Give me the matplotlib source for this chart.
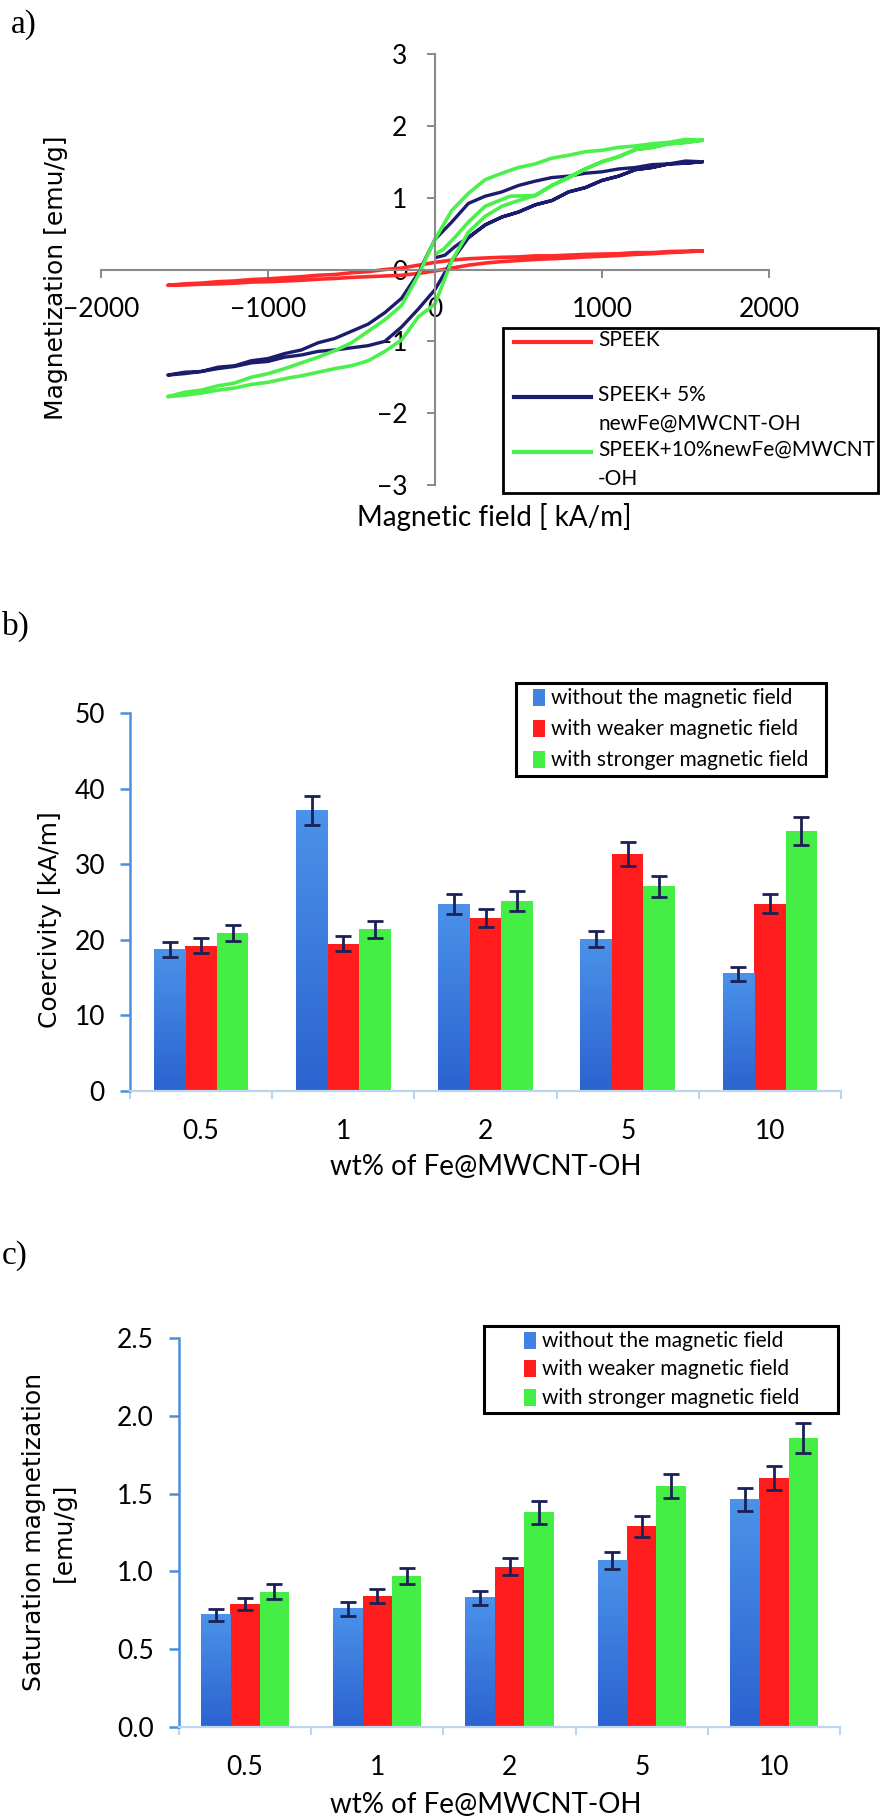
import matplotlib
matplotlib.use("Agg")
import matplotlib.pyplot as plt
import matplotlib.patches as mpatches
import matplotlib.lines as mlines
from matplotlib.colors import LinearSegmentedColormap
import numpy as np

W, H = 881, 1820

# ---------- panel a: hysteresis loops, field in kA/m, M in emu/g
field_down = [1600, 1500, 1400, 1300, 1200, 1100, 1000, 900, 800, 700, 600, 500, 400, 300,
              200, 100, 0, -100, -200, -300, -400, -500, -600, -700, -800, -900, -1000,
              -1100, -1200, -1300, -1400, -1500, -1600]
field_up = field_down[::-1]

speek_down = [0.26, 0.255, 0.25, 0.235, 0.235, 0.22, 0.215, 0.21, 0.20, 0.19, 0.19, 0.175,
              0.17, 0.16, 0.15, 0.13, 0.10, 0.06, 0.02, 0.00, -0.03, -0.045, -0.07, -0.08,
              -0.10, -0.115, -0.13, -0.14, -0.16, -0.17, -0.19, -0.20, -0.22]
speek_up = [-0.22, -0.215, -0.205, -0.20, -0.19, -0.175, -0.17, -0.16, -0.15, -0.135, -0.125,
            -0.11, -0.10, -0.09, -0.08, -0.055, -0.02, 0.02, 0.06, 0.09, 0.11, 0.125, 0.14,
            0.15, 0.16, 0.175, 0.185, 0.195, 0.21, 0.22, 0.235, 0.245, 0.26]

fe5_start_h = [10, 60, 120, 200]
fe5_start_m = [0.17, 0.20, 0.32, 0.45]
fe5_down = [1.50, 1.51, 1.47, 1.46, 1.42, 1.40, 1.36, 1.34, 1.30, 1.28, 1.23, 1.17, 1.08,
            1.02, 0.92, 0.66, 0.42, -0.05, -0.40, -0.60, -0.76, -0.86, -0.96, -1.02, -1.12,
            -1.17, -1.24, -1.27, -1.34, -1.36, -1.42, -1.43, -1.47]
fe5_up = [-1.47, -1.45, -1.42, -1.38, -1.35, -1.30, -1.28, -1.22, -1.19, -1.14, -1.12, -1.09,
          -1.06, -1.00, -0.80, -0.55, -0.28, 0.12, 0.44, 0.62, 0.73, 0.80, 0.90, 0.96, 1.08,
          1.14, 1.24, 1.30, 1.39, 1.42, 1.47, 1.48, 1.50]

fe10_start_h = [5, 50, 120, 200, 300, 450]
fe10_start_m = [0.22, 0.28, 0.45, 0.66, 0.88, 1.02]
fe10_down = [1.80, 1.81, 1.77, 1.75, 1.72, 1.70, 1.66, 1.64, 1.59, 1.55, 1.47, 1.42, 1.34,
             1.25, 1.06, 0.82, 0.42, -0.08, -0.50, -0.70, -0.86, -1.02, -1.13, -1.22, -1.30,
             -1.38, -1.45, -1.50, -1.58, -1.62, -1.68, -1.71, -1.77]
fe10_up = [-1.77, -1.75, -1.72, -1.68, -1.65, -1.60, -1.57, -1.52, -1.48, -1.43, -1.38, -1.34,
           -1.27, -1.14, -0.98, -0.66, -0.48, 0.12, 0.52, 0.74, 0.88, 0.96, 1.03, 1.17, 1.28,
           1.40, 1.50, 1.57, 1.67, 1.70, 1.75, 1.77, 1.80]

loop_names = ["SPEEK", "SPEEK+ 5%\nnewFe@MWCNT-OH", "SPEEK+10%newFe@MWCNT\n-OH"]
loop_colors = ["#ff2b2b", "#1c1c6e", "#4cf04c"]

# ---------- panels b and c
wt_labels = ["0.5", "1", "2", "5", "10"]
field_names = ["without the magnetic field", "with weaker magnetic field",
               "with stronger magnetic field"]
bar_colors = ["#3f82e2", "#ff1c1c", "#44ee44"]

coer_none = [18.7, 37.1, 24.7, 20.1, 15.5]
coer_none_err = [1.0, 1.9, 1.3, 1.1, 0.9]
coer_weak = [19.2, 19.5, 22.9, 31.4, 24.8]
coer_weak_err = [1.0, 1.0, 1.2, 1.6, 1.2]
coer_strong = [20.9, 21.4, 25.1, 27.1, 34.4]
coer_strong_err = [1.1, 1.1, 1.3, 1.4, 1.8]

sat_none = [0.72, 0.76, 0.83, 1.07, 1.46]
sat_none_err = [0.037, 0.045, 0.045, 0.056, 0.073]
sat_weak = [0.79, 0.84, 1.03, 1.29, 1.60]
sat_weak_err = [0.041, 0.045, 0.054, 0.066, 0.079]
sat_strong = [0.87, 0.97, 1.38, 1.55, 1.86]
sat_strong_err = [0.049, 0.054, 0.075, 0.079, 0.096]

narrow = ["Lato", "DejaVu Sans"]
wide = "DejaVu Sans"
serif = "Liberation Serif"

blue_shade = LinearSegmentedColormap.from_list("blue_shade", ["#2b63cf", "#4b92ea"])


def fx(x):
    return x / W


def fy(y):
    return 1 - y / H


fig = plt.figure(figsize=(W / 100, H / 100), dpi=100)


def add_ax(l, t, r, b):
    return fig.add_axes([fx(l), fy(b), (r - l) / W, (b - t) / H])


# ================= a)
ax1 = add_ax(101, 54, 769, 485)
for s in ["top", "right"]:
    ax1.spines[s].set_visible(False)
ax1.spines["left"].set_position("zero")
ax1.spines["bottom"].set_position("zero")
for s in ["left", "bottom"]:
    ax1.spines[s].set_color("#8a8a8a")
    ax1.spines[s].set_linewidth(1.5)

ax1.plot(field_down + field_up, speek_down + speek_up, color=loop_colors[0], lw=2.6,
         solid_joinstyle="round")
h5 = fe5_start_h + [h for h in field_up if h >= 300] + field_down + field_up
m5 = fe5_start_m + [m for h, m in zip(field_up, fe5_up) if h >= 300] + fe5_down + fe5_up
ax1.plot(h5, m5, color=loop_colors[1], lw=2.4, solid_joinstyle="round")
h10 = fe10_start_h + [h for h in field_up if h >= 600] + field_down + field_up
m10 = fe10_start_m + [m for h, m in zip(field_up, fe10_up) if h >= 600] + fe10_down + fe10_up
ax1.plot(h10, m10, color=loop_colors[2], lw=2.6, solid_joinstyle="round")

ax1.set_xlim(-2000, 2000)
ax1.set_ylim(-3, 3)
ax1.set_xticks([-2000, -1000, 0, 1000, 2000])
ax1.set_yticks([-3, -2, -1, 0, 1, 2, 3])
ax1.tick_params(direction="out", length=6, width=1.4, color="#8a8a8a", labelsize=19)
ax1.tick_params(axis="x", pad=14)
ax1.tick_params(axis="y", pad=14)
for lab in ax1.get_xticklabels() + ax1.get_yticklabels():
    lab.set_family(narrow)
ax1.patch.set_visible(False)

fig.text(fx(56), fy(278), "Magnetization [emu/g]", rotation=90, ha="center",
         va="center", family=wide, fontsize=18)
fig.text(fx(494), fy(517), "Magnetic field [ kA/m]", ha="center", va="center",
         family=narrow, fontsize=20)

# legend a
fig.add_artist(mpatches.Rectangle((fx(503), fy(493)), (878 - 503) / W, (493 - 328) / H,
                                  transform=fig.transFigure, fill=False, ec="black", lw=2))
for name, col, yy in zip(loop_names, loop_colors, [342, 397, 452]):
    fig.add_artist(mlines.Line2D([fx(514), fx(591)], [fy(yy), fy(yy)],
                                 transform=fig.transFigure, color=col, lw=3))
    fig.text(fx(598), fy(yy - 12), name, ha="left", va="top", family=narrow, fontsize=15,
             linespacing=1.55)


def bar_panel(box, ylim, yticks, yfmt, series, errs, legend_box, legend_rows, patch_x, text_x):
    ax = add_ax(*box)
    x = np.arange(len(wt_labels))
    w = 0.222
    for i, (vals, er, col) in enumerate(zip(series, errs, bar_colors)):
        bars = ax.bar(x + (i - 1) * w, vals, w, color=col, yerr=er,
                      error_kw=dict(ecolor="#1b2154", elinewidth=2.0, capsize=6,
                                    capthick=2.0, zorder=4),
                      zorder=2)
        if i == 0:
            # vertical shading of the first series, as in the original
            for b in bars:
                ax.imshow(np.linspace(0, 1, 64).reshape(-1, 1), cmap=blue_shade,
                          origin="lower", aspect="auto", zorder=2.5,
                          extent=[b.get_x(), b.get_x() + b.get_width(), 0, b.get_height()])
    ax.set_xlim(-0.5, len(wt_labels) - 0.5)
    ax.set_ylim(*ylim)
    ax.set_yticks(yticks)
    ax.set_yticklabels([yfmt.format(v) for v in yticks], family=narrow, fontsize=19)
    ax.set_xticks(np.arange(len(wt_labels) + 1) - 0.5)
    ax.set_xticklabels([])
    ax.set_xticks(x, minor=True)
    ax.set_xticklabels(wt_labels, minor=True, family=narrow, fontsize=19)
    for s in ["top", "right"]:
        ax.spines[s].set_visible(False)
    ax.spines["left"].set_color("#4a8fe0")
    ax.spines["left"].set_linewidth(1.8)
    ax.spines["bottom"].set_color("#bcd5ee")
    ax.spines["bottom"].set_linewidth(1.6)
    ax.tick_params(axis="y", direction="out", length=7, width=1.8, color="#4a8fe0", pad=11)
    ax.tick_params(axis="x", which="major", direction="out", length=6, width=1.5,
                   color="#bcd5ee")
    ax.tick_params(axis="x", which="minor", length=0, pad=20)
    ax.patch.set_visible(False)

    l, t, r, b = legend_box
    fig.add_artist(mpatches.Rectangle((fx(l), fy(b)), (r - l) / W, (b - t) / H,
                                      transform=fig.transFigure, fill=False, ec="black", lw=2.2))
    for name, col, yy in zip(field_names, bar_colors, legend_rows):
        fig.add_artist(mpatches.Rectangle((fx(patch_x), fy(yy + 8)), 12 / W, 17 / H,
                                          transform=fig.transFigure, color=col, lw=0))
        fig.text(fx(text_x), fy(yy), name, ha="left", va="center", family=narrow, fontsize=15)
    return ax


# ================= b)
ax2 = bar_panel((130, 713, 841, 1091), (0, 50), [0, 10, 20, 30, 40, 50], "{:g}",
                [coer_none, coer_weak, coer_strong],
                [coer_none_err, coer_weak_err, coer_strong_err],
                (516, 683, 826, 776), [698, 729, 760], 533, 551)
fig.text(fx(50), fy(920), "Coercivity [kA/m]", rotation=90, ha="center", va="center",
         family=wide, fontsize=18)
fig.text(fx(486), fy(1167), "wt% of Fe@MWCNT-OH", ha="center", va="center",
         family=narrow, fontsize=20)

# ================= c)
ax3 = bar_panel((179, 1338, 840, 1727), (0, 2.5), [0, 0.5, 1.0, 1.5, 2.0, 2.5], "{:.1f}",
                [sat_none, sat_weak, sat_strong],
                [sat_none_err, sat_weak_err, sat_strong_err],
                (484, 1326, 838, 1413), [1341, 1369, 1398], 524, 542)
fig.text(fx(49), fy(1532), "Saturation magnetization\n[emu/g]", rotation=90, ha="center",
         va="center", family=wide, fontsize=18, linespacing=1.35, multialignment="center")
fig.text(fx(486), fy(1805), "wt% of Fe@MWCNT-OH", ha="center", va="center",
         family=narrow, fontsize=20)

# panel letters
fig.text(fx(11), fy(25), "a)", ha="left", va="center", family=serif, fontsize=24)
fig.text(fx(2), fy(626), "b)", ha="left", va="center", family=serif, fontsize=24)
fig.text(fx(2), fy(1256), "c)", ha="left", va="center", family=serif, fontsize=24)

fig.savefig("out.png", dpi=100, facecolor="white")
